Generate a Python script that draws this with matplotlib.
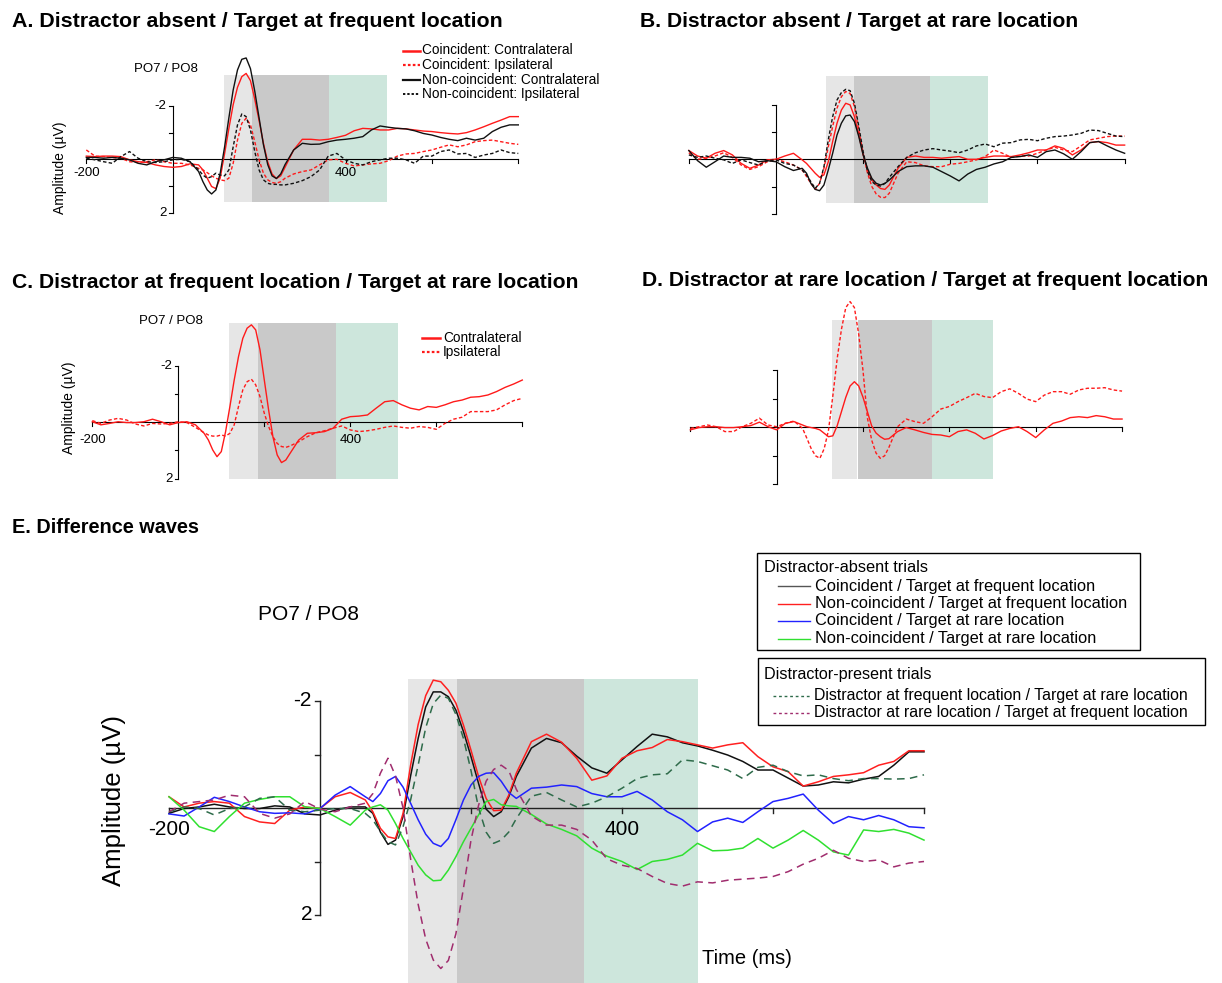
import numpy as np
import matplotlib.pyplot as plt
from matplotlib.patches import Rectangle

plt.rcParams['font.family'] = ['Liberation Sans', 'DejaVu Sans']

W, H = 1222, 983

# time points (ms) shared by every waveform
t_ms = [-200, -180, -160, -140, -120, -100, -80, -60, -40, -20, 0, 20, 40, 60,
        70, 80, 90, 100, 110, 120, 130, 140, 150, 160, 170, 180, 190, 200, 210, 220, 230, 240, 250, 260,
        280, 300, 320, 340, 360, 380, 400, 420, 440, 460, 480, 500, 520, 540, 560, 580, 600, 620, 640,
        660, 680, 700, 720, 740, 760, 780, 800]

# ---- A. distractor absent / target at frequent location (uV)
a_co_contra = [-0.12, -0.10, -0.12, -0.12, -0.10, 0.02, 0.09, 0.12, 0.21, 0.27, 0.30, 0.27, 0.17, 0.21,
               0.40, 0.71, 1.02, 1.10, 0.70, -0.20, -1.15, -2.05, -2.70, -3.10, -3.22, -2.95, -2.25, -1.45, -0.60, 0.10, 0.55, 0.72, 0.62, 0.30,
               -0.35, -0.75, -0.75, -0.72, -0.75, -0.82, -0.90, -1.07, -1.16, -1.14, -1.10, -1.10, -1.16, -1.14, -1.10, -1.06, -1.04, -1.00, -0.97, -0.95, -1.00, -1.10, -1.22, -1.35, -1.47, -1.60, -1.60]
a_co_ipsi = [-0.35, -0.12, -0.10, -0.07, -0.04, 0.09, 0.12, 0.09, 0.02, 0.09, 0.15, 0.15, 0.21, 0.34,
             0.40, 0.50, 0.62, 0.71, 0.77, 0.80, 0.71, 0.15, -0.72, -1.35, -1.54, -1.29, -0.66, 0.02, 0.52, 0.77, 0.87, 0.90, 0.84, 0.71,
             0.55, 0.46, 0.40, 0.21, 0.02, 0.00, 0.15, 0.25, 0.21, 0.17, 0.15, 0.05, -0.12, -0.20, -0.22, -0.29, -0.35, -0.45, -0.54, -0.47, -0.54, -0.66, -0.70, -0.72, -0.66, -0.60, -0.56]
a_nc_contra = [-0.07, -0.07, -0.04, -0.07, -0.04, 0.02, 0.15, 0.21, 0.09, 0.02, -0.07, -0.04, 0.09, 0.46,
               0.84, 1.15, 1.30, 1.15, 0.52, -0.45, -1.55, -2.60, -3.35, -3.75, -3.80, -3.40, -2.55, -1.55, -0.55, 0.20, 0.62, 0.72, 0.55, 0.20,
               -0.35, -0.60, -0.56, -0.57, -0.66, -0.72, -0.75, -0.79, -0.85, -1.10, -1.25, -1.20, -1.16, -1.14, -1.07, -0.97, -0.91, -0.82, -0.75, -0.70, -0.79, -0.72, -0.79, -1.04, -1.20, -1.29, -1.29]
a_nc_ipsi = [-0.04, 0.02, 0.09, 0.15, -0.10, -0.29, -0.04, 0.09, 0.12, 0.09, 0.02, 0.00, 0.09, 0.40,
             0.59, 0.71, 0.65, 0.52, 0.59, 0.62, 0.40, -0.47, -1.29, -1.70, -1.60, -1.10, -0.29, 0.40, 0.77, 0.90, 0.94, 0.94, 0.96, 0.96,
             0.90, 0.80, 0.65, 0.40, -0.12, -0.22, 0.02, 0.15, 0.21, 0.09, 0.02, -0.04, -0.04, 0.02, 0.15, -0.12, -0.12, -0.29, -0.35, -0.20, -0.22, -0.07, -0.16, -0.22, -0.35, -0.25, -0.22]

# ---- B. distractor absent / target at rare location
b_co_contra = [-0.32, -0.12, -0.04, -0.22, -0.32, -0.16, 0.15, 0.33, 0.21, 0.02, 0.00, -0.12, -0.22, 0.02,
               0.15, 0.33, 0.51, 0.66, 0.57, 0.09, -0.65, -1.32, -1.80, -2.05, -1.99, -1.56, -0.89, -0.16, 0.39, 0.76, 0.94, 1.07, 1.10, 0.94,
               0.33, -0.07, -0.12, -0.07, -0.07, -0.04, -0.07, -0.10, 0.00, 0.00, -0.07, -0.12, -0.12, -0.10, -0.16, -0.24, -0.34, -0.34, -0.49, -0.40, -0.16, -0.34, -0.61, -0.65, -0.61, -0.52, -0.52]
b_co_ipsi = [-0.24, 0.00, -0.04, -0.12, -0.24, -0.07, 0.21, 0.37, 0.27, 0.09, 0.00, 0.09, 0.21, 0.39,
             0.63, 0.88, 1.10, 0.88, 0.33, -0.46, -1.20, -1.87, -2.29, -2.48, -2.41, -1.93, -1.07, -0.22, 0.51, 1.00, 1.27, 1.39, 1.40, 1.24,
             0.51, 0.09, 0.12, 0.24, 0.27, 0.27, 0.18, 0.15, 0.09, 0.02, -0.10, -0.34, -0.22, -0.07, -0.12, -0.12, -0.22, -0.34, -0.44, -0.34, -0.28, -0.49, -0.71, -0.77, -0.83, -0.85, -0.85]
b_nc_contra = [-0.32, 0.05, 0.29, 0.09, -0.12, -0.07, -0.07, -0.04, 0.09, 0.05, 0.09, 0.27, 0.41, 0.33,
               0.51, 0.88, 1.10, 1.15, 0.94, 0.39, -0.22, -0.89, -1.32, -1.59, -1.62, -1.38, -0.83, -0.16, 0.33, 0.70, 0.88, 0.94, 0.88, 0.76,
               0.45, 0.27, 0.24, 0.24, 0.29, 0.45, 0.61, 0.79, 0.54, 0.37, 0.29, 0.17, 0.09, -0.07, -0.10, -0.16, -0.07, -0.28, -0.34, -0.20, 0.00, -0.28, -0.61, -0.65, -0.49, -0.34, -0.22]
b_nc_ipsi = [-0.16, -0.07, -0.12, -0.04, 0.02, 0.15, 0.02, 0.12, 0.21, 0.05, 0.02, 0.15, 0.21, 0.39,
             0.57, 0.82, 1.06, 0.88, 0.27, -0.71, -1.56, -2.17, -2.44, -2.56, -2.51, -2.05, -1.20, -0.28, 0.45, 0.82, 0.94, 0.98, 0.88, 0.66,
             0.27, -0.07, -0.24, -0.34, -0.39, -0.34, -0.30, -0.24, -0.34, -0.49, -0.56, -0.46, -0.59, -0.61, -0.71, -0.73, -0.68, -0.77, -0.83, -0.85, -0.89, -0.95, -1.07, -1.05, -0.95, -0.85, -0.83]

# ---- C. distractor at frequent location / target at rare location
c_contra = [-0.02, 0.09, 0.04, -0.02, 0.01, 0.01, -0.02, -0.11, -0.02, 0.09, 0.01, -0.02, 0.09, 0.39,
            0.63, 0.98, 1.22, 1.04, 0.33, -0.56, -1.50, -2.33, -2.98, -3.34, -3.46, -3.28, -2.57, -1.50, -0.44, 0.51, 1.16, 1.43, 1.34, 1.10,
            0.63, 0.39, 0.37, 0.33, 0.21, -0.11, -0.20, -0.22, -0.26, -0.50, -0.73, -0.77, -0.62, -0.50, -0.44, -0.56, -0.53, -0.62, -0.73, -0.79, -0.89, -0.91, -0.97, -1.09, -1.24, -1.36, -1.50]
c_ipsi = [-0.06, 0.04, -0.08, -0.14, -0.08, 0.06, 0.13, 0.04, 0.06, 0.04, -0.02, 0.01, 0.18, 0.37,
          0.45, 0.49, 0.49, 0.45, 0.49, 0.39, 0.09, -0.56, -1.15, -1.44, -1.53, -1.33, -0.91, -0.32, 0.15, 0.51, 0.75, 0.86, 0.89, 0.84,
          0.69, 0.51, 0.37, 0.30, 0.21, 0.13, 0.27, 0.33, 0.30, 0.25, 0.18, 0.13, 0.18, 0.21, 0.15, 0.18, 0.25, 0.04, -0.11, -0.18, -0.38, -0.38, -0.38, -0.44, -0.62, -0.77, -0.85]

# ---- D. distractor at rare location / target at frequent location
d_contra = [0.09, 0.01, -0.02, -0.02, 0.01, 0.01, -0.02, -0.06, -0.18, -0.02, 0.09, -0.14, -0.20, -0.08,
            -0.02, 0.01, 0.04, 0.09, 0.21, 0.33, 0.30, -0.05, -0.55, -1.05, -1.45, -1.60, -1.45, -1.05, -0.55, -0.05, 0.20, 0.33, 0.42, 0.40,
            0.15, 0.01, 0.09, 0.18, 0.25, 0.27, 0.33, 0.15, 0.09, 0.21, 0.41, 0.29, 0.13, 0.04, -0.02, 0.15, 0.36, 0.09, -0.14, -0.22, -0.34, -0.37, -0.34, -0.41, -0.37, -0.29, -0.29]
d_ipsi = [0.04, -0.02, -0.08, -0.02, 0.15, 0.15, -0.02, -0.14, -0.32, -0.08, -0.02, -0.14, -0.22, 0.04,
          0.39, 0.75, 1.00, 1.09, 0.75, 0.10, -1.10, -2.40, -3.44, -4.20, -4.41, -4.20, -3.26, -1.98, -0.34, 0.45, 0.90, 1.09, 1.00, 0.70,
          -0.02, -0.29, -0.20, -0.14, -0.37, -0.64, -0.73, -0.90, -1.04, -1.19, -1.08, -1.04, -1.25, -1.35, -1.19, -0.99, -0.90, -1.13, -1.25, -1.25, -1.16, -1.31, -1.37, -1.37, -1.39, -1.31, -1.27]

# ---- E. difference waves
e_co_freq = [0.10, 0.01, -0.02, -0.07, -0.02, 0.01, 0.01, -0.04, -0.02, 0.11, 0.13, 0.04, -0.02, -0.02,
             0.10, 0.45, 0.68, 0.60, 0.16, -0.60, -1.30, -1.89, -2.17, -2.17, -2.08, -1.83, -1.43, -0.96, -0.46, 0.02, 0.16, 0.07, -0.21, -0.59,
             -1.12, -1.30, -1.22, -0.97, -0.75, -0.65, -0.90, -1.15, -1.38, -1.33, -1.22, -1.16, -1.08, -0.99, -0.87, -0.71, -0.71, -0.56, -0.41, -0.43, -0.49, -0.47, -0.54, -0.59, -0.80, -1.05, -1.05]
e_nc_freq = [-0.21, -0.02, -0.09, -0.12, -0.09, 0.16, 0.26, 0.29, 0.04, -0.02, 0.01, -0.21, -0.29, -0.15,
             0.07, 0.38, 0.54, 0.57, 0.10, -0.80, -1.56, -2.10, -2.39, -2.36, -2.20, -1.96, -1.55, -1.08, -0.59, -0.18, 0.05, 0.04, -0.24, -0.65,
             -1.24, -1.38, -1.23, -0.93, -0.52, -0.60, -0.93, -1.07, -1.13, -1.28, -1.24, -1.18, -1.12, -1.18, -1.22, -0.96, -0.77, -0.68, -0.41, -0.49, -0.59, -0.62, -0.66, -0.80, -0.87, -1.07, -1.07]
e_co_rare = [0.11, 0.15, -0.02, -0.20, -0.12, -0.02, 0.07, 0.10, 0.09, 0.11, 0.01, -0.24, -0.40, -0.21,
             -0.12, -0.27, -0.51, -0.59, -0.39, -0.09, 0.22, 0.49, 0.66, 0.72, 0.57, 0.22, -0.15, -0.43, -0.59, -0.65, -0.66, -0.50, -0.29, -0.18,
             -0.37, -0.39, -0.43, -0.40, -0.27, -0.21, -0.21, -0.31, -0.15, 0.07, 0.22, 0.44, 0.26, 0.19, 0.27, 0.07, -0.12, -0.18, -0.26, 0.04, 0.29, 0.16, 0.22, 0.14, 0.22, 0.35, 0.37]
e_nc_rare = [-0.21, 0.04, 0.35, 0.44, 0.16, -0.09, -0.16, -0.21, -0.21, -0.02, 0.01, 0.16, 0.32, 0.04,
             -0.02, -0.06, 0.04, 0.29, 0.57, 0.82, 1.07, 1.25, 1.36, 1.35, 1.16, 0.91, 0.63, 0.38, 0.13, -0.12, -0.16, -0.06, -0.04, -0.03,
             0.12, 0.30, 0.40, 0.52, 0.75, 0.90, 1.00, 1.15, 1.00, 0.96, 0.88, 0.66, 0.80, 0.79, 0.75, 0.57, 0.75, 0.60, 0.42, 0.60, 0.82, 0.88, 0.41, 0.44, 0.40, 0.47, 0.60]
e_dist_freq = [0.07, -0.02, 0.01, 0.13, 0.01, -0.02, -0.18, -0.21, 0.04, 0.07, 0.04, 0.01, 0.01, 0.10,
               0.22, 0.44, 0.63, 0.69, 0.35, -0.15, -0.80, -1.50, -1.95, -2.11, -2.05, -1.75, -1.30, -0.70, 0.00, 0.45, 0.66, 0.60, 0.45, 0.20,
               -0.22, -0.29, -0.15, -0.02, -0.09, -0.21, -0.37, -0.55, -0.62, -0.64, -0.90, -0.87, -0.79, -0.71, -0.55, -0.76, -0.80, -0.68, -0.60, -0.62, -0.55, -0.51, -0.55, -0.55, -0.54, -0.55, -0.62]
e_dist_rare = [0.07, -0.09, -0.12, -0.15, -0.24, -0.21, 0.10, 0.19, 0.11, -0.12, 0.02, 0.07, -0.02, -0.09,
               -0.27, -0.65, -0.93, -0.60, 0.00, 0.95, 1.80, 2.45, 2.84, 3.00, 2.85, 2.35, 1.50, 0.60, -0.05, -0.50, -0.72, -0.80, -0.70, -0.35,
               0.15, 0.32, 0.32, 0.40, 0.60, 0.95, 1.07, 1.13, 1.28, 1.41, 1.46, 1.38, 1.40, 1.35, 1.33, 1.31, 1.28, 1.19, 1.05, 0.94, 0.79, 0.94, 1.00, 0.97, 1.10, 1.03, 1.00]

# analysis windows (ms): light grey | dark grey | green, per panel
win_a = [119, 184, 362, 495]
win_b = [115, 179, 353, 487]
win_c = [118, 185, 366, 512]
win_d = [128, 189, 359, 502]
win_e = [117, 181, 350, 500]

shade_cols = ['#e6e6e6', '#c9c9c9', '#cde6dc']
RED = '#ff1a1a'


def panel_axes(fig, x0, kx, y0, ky, v_top, v_bot):
    # x0,y0 = pixel of (0 ms, 0 uV); kx,ky = pixels per ms / per uV
    t_lo, t_hi = -215, 815
    left, right = x0 + kx * t_lo, x0 + kx * t_hi
    top, bot = y0 + ky * v_top, y0 + ky * v_bot
    ax = fig.add_axes([left / W, 1 - bot / H, (right - left) / W, (bot - top) / H])
    ax.set_xlim(t_lo, t_hi)
    ax.set_ylim(v_bot, v_top)
    ax.axis('off')
    return ax


def shade(ax, win, v_top, v_bot, gap=0):
    edges = list(zip(win[:-1], win[1:]))
    for i, ((t0, t1), c) in enumerate(zip(edges, shade_cols)):
        if i == 0:
            t1 = t1 - gap
        ax.add_patch(Rectangle((t0, v_top), t1 - t0, v_bot - v_top, color=c, lw=0, zorder=0))


def frame(ax, kx, ky, lw=0.8, tick=3.5, col='k'):
    ax.plot([-200, 800], [0, 0], color=col, lw=lw, zorder=2)
    ax.plot([0, 0], [-2, 2], color=col, lw=lw, zorder=2)
    for t in [-200, 200, 400, 600, 800]:
        ax.plot([t, t], [0, tick / ky], color=col, lw=lw, zorder=2)
    for v in [-2, -1, 0, 1, 2]:
        ax.plot([-tick / kx, 0], [v, v], color=col, lw=lw, zorder=2)


def tick_labels(ov, x0, kx, y0, ky, fs, dx, base):
    ov.text(x0 - dx, y0 - 2 * ky, '-2', ha='right', va='center', fontsize=fs)
    ov.text(x0 - dx, y0 + 2 * ky, '2', ha='right', va='center', fontsize=fs)
    ov.text(x0 - 200 * kx, y0 + base, '-200', ha='center', va='baseline', fontsize=fs)
    ov.text(x0 + 400 * kx, y0 + base, '400', ha='center', va='baseline', fontsize=fs)


fig = plt.figure(figsize=(W / 100, H / 100), dpi=100, facecolor='white')

dash_s = (0, (2.5, 1.6))

# ---------------- A
pA = (172.7, 0.432, 159.3, 26.67)
ax = panel_axes(fig, *pA, -4.3, 2.4)
shade(ax, win_a, -3.16, 1.59)
frame(ax, pA[1], pA[3])
ax.plot(t_ms, a_co_contra, color=RED, lw=1.0, zorder=3)
ax.plot(t_ms, a_co_ipsi, color=RED, lw=1.0, ls=dash_s, zorder=3)
ax.plot(t_ms, a_nc_contra, color='#111111', lw=1.0, zorder=3)
ax.plot(t_ms, a_nc_ipsi, color='#111111', lw=1.0, ls=dash_s, zorder=3)

# ---------------- B
pB = (776.0, 0.4358, 159.3, 27.33)
ax = panel_axes(fig, *pB, -3.4, 2.3)
shade(ax, win_b, -3.05, 1.61)
frame(ax, pB[1], pB[3])
ax.plot(t_ms, b_co_contra, color=RED, lw=1.0, zorder=3)
ax.plot(t_ms, b_co_ipsi, color=RED, lw=1.0, ls=dash_s, zorder=3)
ax.plot(t_ms, b_nc_contra, color='#111111', lw=1.0, zorder=3)
ax.plot(t_ms, b_nc_ipsi, color='#111111', lw=1.0, ls=dash_s, zorder=3)

# ---------------- C
pC = (178.3, 0.430, 422.3, 28.17)
ax = panel_axes(fig, *pC, -3.9, 2.3)
shade(ax, win_c, -3.54, 2.02)
frame(ax, pC[1], pC[3])
ax.plot(t_ms, c_contra, color=RED, lw=1.0, zorder=3)
ax.plot(t_ms, c_ipsi, color=RED, lw=1.0, ls=dash_s, zorder=3)

# ---------------- D
pD = (776.7, 0.4317, 427.3, 28.5)
ax = panel_axes(fig, *pD, -4.7, 2.2)
shade(ax, win_d, -3.77, 1.81, gap=3)
frame(ax, pD[1], pD[3])
ax.plot(t_ms, d_contra, color=RED, lw=1.0, zorder=3)
ax.plot(t_ms, d_ipsi, color=RED, lw=1.0, ls=dash_s, zorder=3)

# ---------------- E
pE = (320.0, 0.755, 808.0, 53.5)
ax = panel_axes(fig, *pE, -2.8, 3.5)
shade(ax, win_e, -2.41, 3.4)
frame(ax, pE[1], pE[3], lw=1.0, tick=5, col='#222222')
dash_e = (0, (5, 3.5))
ax.plot(t_ms, e_co_freq, color='#111111', lw=1.1, zorder=3)
ax.plot(t_ms, e_nc_freq, color='#ff2020', lw=1.1, zorder=3)
ax.plot(t_ms, e_co_rare, color='#2222ff', lw=1.1, zorder=3)
ax.plot(t_ms, e_nc_rare, color='#30e030', lw=1.1, zorder=3)
ax.plot(t_ms, e_dist_freq, color='#2e6b4a', lw=1.1, ls=dash_e, zorder=3)
ax.plot(t_ms, e_dist_rare, color='#a02d6e', lw=1.1, ls=dash_e, zorder=3)

# ---------------- overlay for text, in pixel units
ov = fig.add_axes([0, 0, 1, 1])
ov.set_xlim(0, W)
ov.set_ylim(H, 0)
ov.axis('off')

ov.text(12, 27, 'A. Distractor absent / Target at frequent location', fontsize=15.4, fontweight='bold', va='baseline')
ov.text(640, 27, 'B. Distractor absent / Target at rare location', fontsize=15.25, fontweight='bold', va='baseline')
ov.text(12, 288, 'C. Distractor at frequent location / Target at rare location', fontsize=15.2, fontweight='bold', va='baseline')
ov.text(642, 286, 'D. Distractor at rare location / Target at frequent location', fontsize=15.25, fontweight='bold', va='baseline')
ov.text(12, 533, 'E. Difference waves', fontsize=14.3, fontweight='bold', va='baseline')

# small panels: labels
tick_labels(ov, *pA, fs=9.5, dx=6, base=16.5)
tick_labels(ov, *pC, fs=9.5, dx=6, base=20.5)
ov.text(166, 69, 'PO7 / PO8', fontsize=9.5, ha='center', va='center')
ov.text(171, 321, 'PO7 / PO8', fontsize=9.5, ha='center', va='center')
ov.text(60, 168, 'Amplitude (µV)', fontsize=10, rotation=90, ha='center', va='center')
ov.text(69, 408, 'Amplitude (µV)', fontsize=10, rotation=90, ha='center', va='center')

# legend A
leg_a = ['Coincident: Contralateral', 'Coincident: Ipsilateral',
         'Non-coincident: Contralateral', 'Non-coincident: Ipsilateral']
sty_a = [(RED, '-', 1.8), (RED, (0, (1.2, 1.0)), 1.6), ('#111111', '-', 1.6), ('#111111', (0, (1.2, 1.0)), 1.4)]
for i, (lab, (c, ls, lw)) in enumerate(zip(leg_a, sty_a)):
    yy = 50.5 + 14.5 * i
    ov.plot([403, 420], [yy, yy], color=c, ls=ls, lw=lw)
    ov.text(422, yy, lab, fontsize=9.8, va='center')

# legend C
for i, (lab, ls, lw) in enumerate([('Contralateral', '-', 1.8), ('Ipsilateral', (0, (1.2, 1.0)), 1.6)]):
    yy = 337.5 + 14.3 * i
    ov.plot([422, 440], [yy, yy], color=RED, ls=ls, lw=lw)
    ov.text(443, yy, lab, fontsize=9.8, va='center')

# E labels
tick_labels(ov, *pE, fs=15, dx=8, base=27)
ov.text(308, 615, 'PO7 / PO8', fontsize=15, ha='center', va='center')
ov.text(114, 801, 'Amplitude (µV)', fontsize=18.5, rotation=90, ha='center', va='center')
ov.text(747, 959, 'Time (ms)', fontsize=14.5, ha='center', va='center')

# E legends
ov.add_patch(Rectangle((757, 553), 383, 97, fill=False, ec='k', lw=1.0))
ov.text(764, 567, 'Distractor-absent trials', fontsize=11.8, va='center')
leg_e1 = ['Coincident / Target at frequent location', 'Non-coincident / Target at frequent location',
          'Coincident / Target at rare location', 'Non-coincident / Target at rare location']
col_e1 = ['#555555', '#ff2020', '#2222ff', '#30e030']
for i, (lab, c) in enumerate(zip(leg_e1, col_e1)):
    yy = 586 + 17.5 * i
    ov.plot([778, 810], [yy, yy], color=c, lw=1.0)
    ov.text(815, yy, lab, fontsize=11.8, va='center')

ov.add_patch(Rectangle((758, 658), 447, 67, fill=False, ec='k', lw=1.0))
ov.text(764, 675, 'Distractor-present trials', fontsize=11.6, va='center')
leg_e2 = ['Distractor at frequent location / Target at rare location',
          'Distractor at rare location / Target at frequent location']
col_e2 = ['#2e6b4a', '#a02d6e']
for i, (lab, c) in enumerate(zip(leg_e2, col_e2)):
    yy = 695.5 + 17.5 * i
    ov.plot([773, 810], [yy, yy], color=c, lw=1.0, ls=(0, (2, 2)))
    ov.text(814, yy, lab, fontsize=11.4, va='center')

fig.savefig('out.png', dpi=100, facecolor='white')
